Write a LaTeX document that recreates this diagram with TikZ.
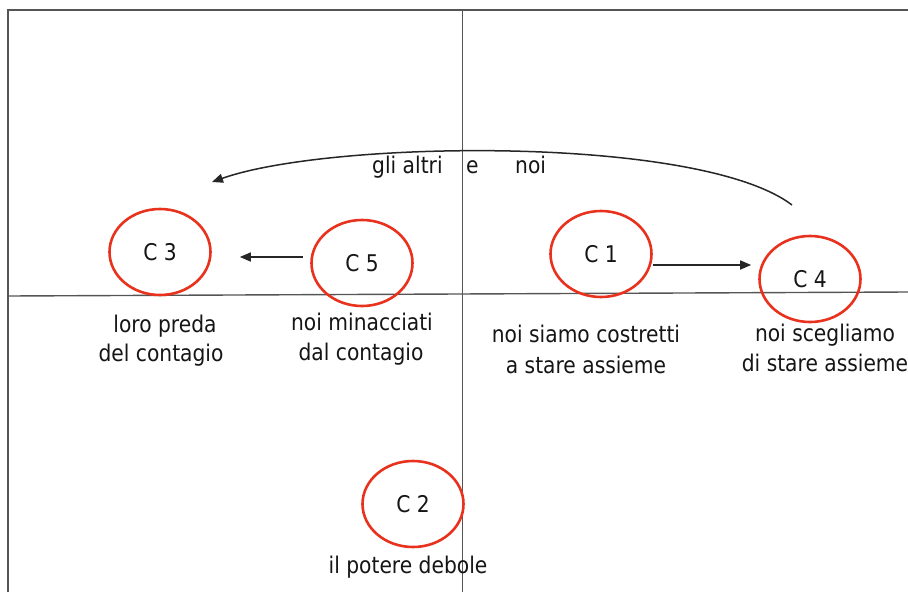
\documentclass[tikz,border=0pt]{standalone}
\usepackage{fontspec}
\setmainfont{DejaVu Sans}[FakeStretch=0.88]
\usetikzlibrary{shapes.geometric,arrows.meta}
\definecolor{circred}{HTML}{E8321E}
\definecolor{axisgray}{HTML}{555555}
\definecolor{txt}{HTML}{151515}
\begin{document}
\begin{tikzpicture}[x=1pt,y=-1pt,
  cnode/.style={ellipse,draw=circred,line width=2.6pt,minimum width=101pt,minimum height=86pt,inner sep=0pt,text=txt,font=\fontsize{23}{28}\selectfont},
  lbl/.style={anchor=base,inner sep=0pt,text=txt,font=\fontsize{23}{28}\selectfont},
  axis/.style={draw=axisgray,line width=1.4pt},
  conn/.style={draw=black!85,line width=1.5pt,-{Triangle[length=11pt,width=9pt]}}]
\useasboundingbox (0,0) rectangle (908,592);
% frame and axes
\coordinate (tl) at (8,10);
\coordinate (tr) at (908,10);
\coordinate (bl) at (8,592);
\coordinate (vt) at (462.5,10);
\coordinate (vb) at (462.5,592);
\coordinate (hl) at (8,296);
\coordinate (hr) at (908,292);
\draw[axis] (bl) -- (tl) -- (tr);
\draw[axis] (vt) -- (vb);
\draw[axis] (hl) -- (hr);
% circles
\node[cnode] (c3) at (160,252) {C 3};
\node[cnode] (c5) at (362,263) {C 5};
\node[cnode] (c1) at (601,254) {C 1};
\node[cnode] (c4) at (810,279) {C 4};
\node[cnode] (c2) at (413,504) {C 2};
% labels
\node[lbl] (l3a) at (165,332) {loro preda};
\node[lbl] (l3b) at (161,361) {del contagio};
\node[lbl] (l5a) at (362,330) {noi minacciati};
\node[lbl] (l5b) at (361,360) {dal contagio};
\node[lbl] (l1a) at (586,342) {noi siamo costretti};
\node[lbl] (l1b) at (586,373) {a stare assieme};
\node[lbl] (l4a) at (825,341) {noi scegliamo};
\node[lbl] (l4b) at (825,371) {di stare assieme};
\node[lbl] (l2) at (408,573) {il potere debole};
\node[lbl,anchor=base west] (ga) at (372,173) {gli altri};
\node[lbl,anchor=base west] (ge) at (466,173) {e};
\node[lbl,anchor=base west] (gn) at (515,173) {noi};
% connectors
\draw[conn,shorten <=7pt,shorten >=28pt] ([yshift=6pt]c5.west) -- ([yshift=-5pt]c3.east);
\draw[conn,shorten >=7pt] ([yshift=-11pt]c1.east) -- ([yshift=14pt]c4.west);
\coordinate (cs) at (792,205);
\coordinate (ce) at (212,182);
\draw[conn] (cs) .. controls (700,135) and (330,140) .. (ce);
\end{tikzpicture}
\end{document}
